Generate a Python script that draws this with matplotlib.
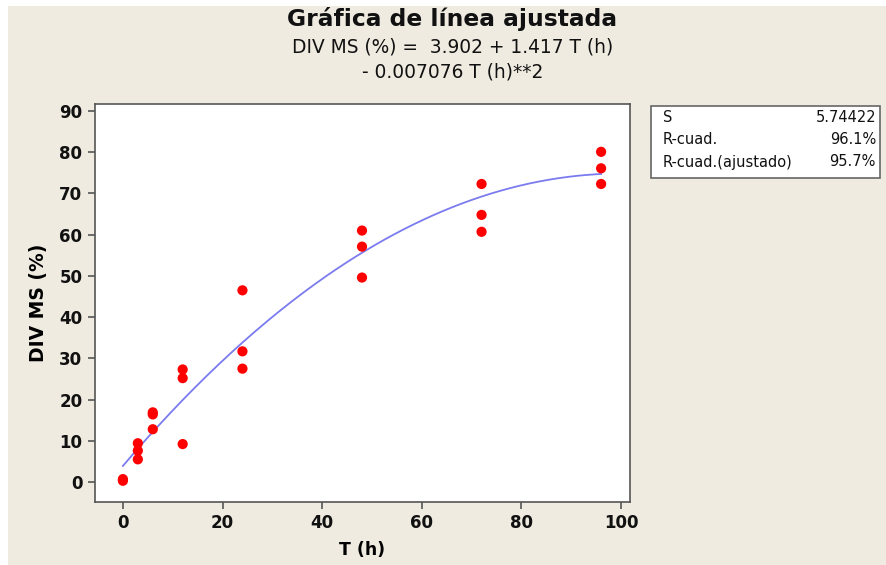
import numpy as np
import matplotlib
matplotlib.use("Agg")
import matplotlib.pyplot as plt
from matplotlib.patches import Rectangle

# Data
t_hours = [0, 0, 3, 3, 3, 6, 6, 6, 12, 12, 12, 24, 24, 24, 48, 48, 48, 72, 72, 72, 96, 96, 96]
div_ms = [0.3, 0.7, 9.4, 7.6, 5.5, 16.9, 16.4, 12.8, 27.3, 25.2, 9.2, 46.5, 31.7, 27.5,
          61.0, 57.1, 49.6, 72.3, 64.8, 60.7, 80.1, 76.1, 72.3]
# Fitted quadratic coefficients as printed on the chart (b0, b1, b2)
coef = [3.902, 1.417, -0.007076]
x_ticks = [0, 20, 40, 60, 80, 100]
y_ticks = [0, 10, 20, 30, 40, 50, 60, 70, 80, 90]
stats_labels = ["S", "R-cuad.", "R-cuad.(ajustado)"]
stats_values = ["5.74422", "96.1%", "95.7%"]

W, H = 886, 565
fig = plt.figure(figsize=(W / 100, H / 100), dpi=100, facecolor="white")
bg = "#EFEBE1"
fig.patches.append(Rectangle((8 / W, 0), 1 - 8 / W, 1 - 6 / H, transform=fig.transFigure,
                             facecolor=bg, edgecolor="none", zorder=-10))

ax = fig.add_axes([95 / W, 1 - 502 / H, (630 - 95) / W, (502 - 104) / H])
ax.set_facecolor("white")

xs = np.linspace(min(t_hours), max(t_hours), 200)
ys = coef[0] + coef[1] * xs + coef[2] * xs ** 2
ax.plot(xs, ys, color="#7B7BF0", lw=1.3, zorder=2)
ax.scatter(t_hours, div_ms, s=54, color="#FF0000", edgecolors="none", zorder=3)

ax.set_xlim(-5.6, 101.8)
ax.set_ylim(-4.85, 91.7)
ax.set_xticks(x_ticks)
ax.set_yticks(y_ticks)
for sp in ax.spines.values():
    sp.set_color("#555555")
    sp.set_linewidth(1.2)
ax.tick_params(direction="out", length=5, width=1.2, color="#555555",
               labelsize=12, labelcolor="#111111", pad=4)
for lab in ax.get_xticklabels() + ax.get_yticklabels():
    lab.set_fontweight("bold")

ax.set_xlabel("T (h)", fontsize=12.5, fontweight="bold", labelpad=6)
ax.set_ylabel("DIV MS (%)", fontsize=13.5, fontweight="bold", labelpad=8)

fig.text(452 / W, 1 - 19 / H, "Gráfica de línea ajustada", ha="center", va="center",
         fontsize=16.8, fontweight="bold", color="#111111")
fig.text(453 / W, 1 - 47 / H, "DIV MS (%) =  3.902 + 1.417 T (h)", ha="center", va="center",
         fontsize=13.4, color="#111111")
fig.text(453 / W, 1 - 72 / H, "- 0.007076 T (h)**2", ha="center", va="center",
         fontsize=13.4, color="#111111")

# Stats box
fig.patches.append(Rectangle((651 / W, 1 - 178 / H), (880 - 651) / W, (178 - 106) / H,
                             transform=fig.transFigure, facecolor="white",
                             edgecolor="#666666", lw=1.2))
rows_y = [118, 140, 162]
for lab, val, yy in zip(stats_labels, stats_values, rows_y):
    fig.text(663 / W, 1 - yy / H, lab, ha="left", va="center", fontsize=10.5, color="#111111")
    fig.text(876 / W, 1 - yy / H, val, ha="right", va="center", fontsize=10.5, color="#111111")

fig.savefig("out.png", dpi=100, facecolor=fig.get_facecolor())
